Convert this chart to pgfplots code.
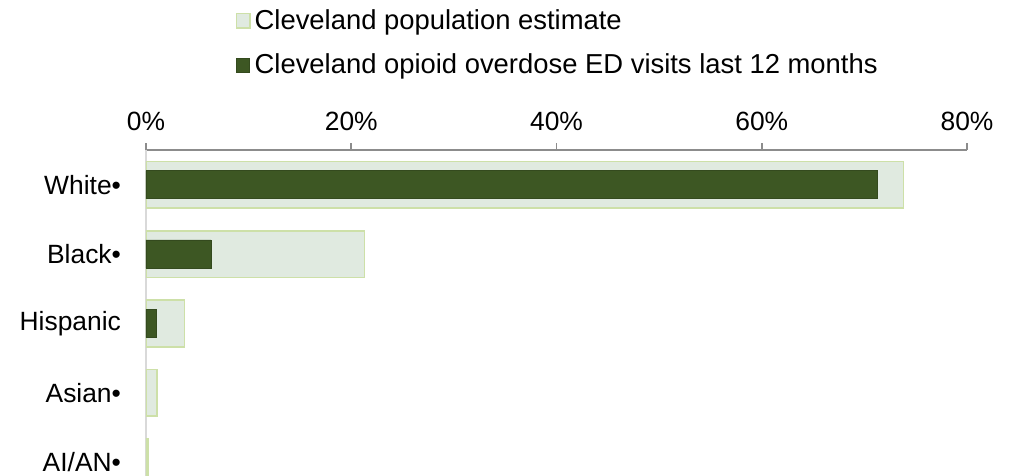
\documentclass[border=0pt]{standalone}
\usepackage{pgfplots}
\pgfplotsset{compat=1.18}
\usepackage{fontspec}
\setmainfont{Liberation Sans}
\definecolor{popfill}{HTML}{E0EAE0}
\definecolor{popedge}{HTML}{CDE0A8}
\definecolor{edfill}{HTML}{3D5723}
\definecolor{axgray}{HTML}{8C8C8C}
\definecolor{lightax}{HTML}{D9D9D9}
\pgfplotsset{sqlegend/.style={legend image code/.code={\draw[##1] (0pt,-3.6pt) rectangle (6.6pt,3.6pt);}}}
\begin{document}
\begin{tikzpicture}
\useasboundingbox (-73pt,0pt) rectangle (436pt,238pt);
\begin{axis}[
    at={(0pt,0pt)}, anchor=south west,
    scale only axis,
    width=410.5pt, height=163pt,
    xbar, bar shift=0pt,
    y dir=reverse,
    xmin=0, xmax=80,
    ymin=-0.5, ymax=4.2,
    axis x line*=top,
    axis y line*=left,
    x axis line style={draw=axgray, line width=0.8pt},
    y axis line style={draw=lightax, line width=1pt},
    xtick={0,20,40,60,80},
    xtick style={draw=axgray, line width=0.8pt},
    major tick length=3.5pt,
    tick align=outside,
    ytick={0,1,2,3,4},
    yticklabels={White•,Black•,Hispanic,Asian•,AI/AN•},
    ytick style={draw=none},
    yticklabel style={xshift=-5.5pt},
    xticklabel={\pgfmathprintnumber{\tick}\%},
    xticklabel style={yshift=2.5pt},
    /pgf/number format/assume math mode=true,
    tick label style={font=\fontsize{13.2}{15}\selectfont, text=black},
    legend style={draw=none, fill=none, at={(0.109,1.445)}, anchor=north west,
        font=\fontsize{13.7}{16}\selectfont, inner sep=0pt,
        row sep=6.8pt, cells={anchor=west}},
    legend cell align=left,
    clip=true,
]
\addplot[fill=popfill, draw=popedge, line width=0.8pt, bar width=23.3pt, sqlegend]
    coordinates {(73.8,0) (21.3,1) (3.75,2) (1.07,3) (0.22,4)};
\addlegendentry{Cleveland population estimate}
\addplot[fill=edfill, draw=edfill!85!black, line width=0.4pt, bar width=14.1pt, sqlegend]
    coordinates {(71.3,0) (6.33,1) (1.0,2)};
\addlegendentry{Cleveland opioid overdose ED visits last 12 months}
\end{axis}
\end{tikzpicture}
\end{document}
